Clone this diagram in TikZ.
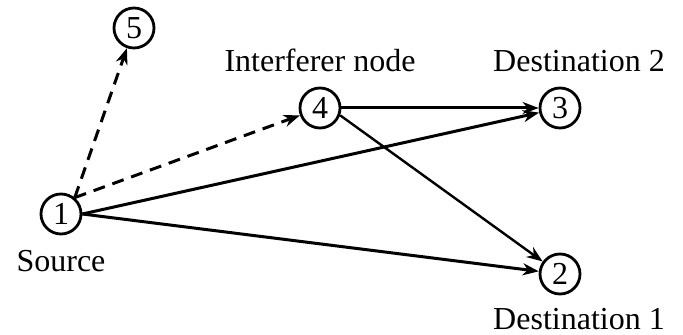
\documentclass[tikz,border=0pt]{standalone}
\usepackage{fontspec}
\setmainfont{Liberation Serif}
\usetikzlibrary{arrows.meta,positioning}

\begin{document}
\begin{tikzpicture}[x=0.5pt, y=-0.5pt, node distance=4pt,
  every node/.style={font=\fontsize{16}{19}\selectfont},
  numnode/.style={circle, draw, line width=1.4pt, minimum size=20pt, inner sep=0pt},
  link/.style={-{Stealth[length=8pt,width=6pt,inset=2.5pt]}, line width=1.5pt},
  hop/.style={link, dash pattern=on 6pt off 4pt}]
\useasboundingbox (0,0) rectangle (683,335);
\node (n1) [numnode] at (61,214) {1};
\node (n5) [numnode] at (134,28) {5};
\node (n4) [numnode] at (320,108) {4};
\node (n3) [numnode] at (560,108) {3};
\node (n2) [numnode] at (560,274) {2};

% labels
\node (src) [below=4pt of n1] {Source};
\node (intf) [above=4pt of n4] {Interferer node};
\node (dst2) [above=4pt of n3, xshift=9.5pt] {Destination 2};
\node (dst1) [below=3pt of n2, xshift=9.5pt] {Destination 1};

\draw [hop] (n1.50) -- (n5);
\draw [hop] (n1.50) -- (n4);
\draw [link] (n1.east) -- (n3);
\draw [link] (n1.east) -- (n2);
\draw [link] (n4) -- (n3);
\draw [link, line width=1.2pt] (n4.-20) -- (n2);
\end{tikzpicture}
\end{document}
